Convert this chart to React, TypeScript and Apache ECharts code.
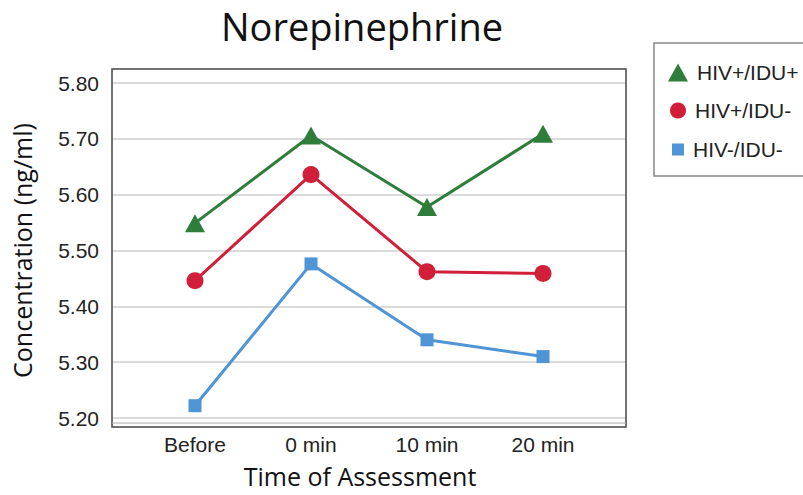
import React, { useEffect, useRef } from "react";
import * as echarts from "echarts";

const categories = ["Before", "0 min", "10 min", "20 min"];
const seriesNames = ["HIV+/IDU+", "HIV+/IDU-", "HIV-/IDU-"];
const hivPosIduPos = [5.549, 5.706, 5.578, 5.709];
const hivPosIduNeg = [5.446, 5.636, 5.462, 5.459];
const hivNegIduNeg = [5.222, 5.476, 5.34, 5.31];
const yTicks = [5.2, 5.3, 5.4, 5.5, 5.6, 5.7, 5.8];

const GREEN = "#2e7d3a";
const RED = "#d11f3a";
const BLUE = "#4f94d4";
const SANS = "Liberation Sans";
const TITLE_FONT = "Open Sans";

export default function App() {
  const ref = useRef<HTMLDivElement>(null);
  useEffect(() => {
    if (!ref.current) return;
    const chart = echarts.init(ref.current, null, { renderer: "svg" });
    const yMin = yTicks[0];
    const yMax = yTicks[yTicks.length - 1];
    const top = 83;
    const height = 335;
    const legendText = { fontSize: 21, fontFamily: SANS, color: "#222", padding: [0, 0, 0, 4] };
    chart.setOption({
      animation: false,
      title: {
        text: "Norepinephrine",
        left: 357,
        textAlign: "center",
        top: 2,
        textStyle: { fontFamily: TITLE_FONT, fontSize: 38, fontWeight: "normal", color: "#111" },
      },
      legend: [
        {
          data: [{ name: seriesNames[0], icon: "triangle" }],
          left: 668, top: 62, itemWidth: 20, itemHeight: 18, padding: 0,
          selectedMode: false, textStyle: legendText,
        },
        {
          data: [{ name: seriesNames[1], icon: "circle" }],
          left: 670, top: 100, itemWidth: 16, itemHeight: 16, padding: 0,
          selectedMode: false, textStyle: legendText,
        },
        {
          data: [{ name: seriesNames[2], icon: "rect" }],
          left: 672, top: 139, itemWidth: 12, itemHeight: 12, padding: 0,
          selectedMode: false, textStyle: legendText,
        },
      ],
      graphic: [
        {
          type: "rect",
          shape: { x: 112, y: 69, width: 514, height: 358 },
          style: { fill: "none", stroke: "#444", lineWidth: 1.5 },
          z: 10,
        },
        {
          type: "line",
          shape: { x1: 112, y1: 423, x2: 626, y2: 423 },
          style: { stroke: "#aaa", lineWidth: 1.2 },
          z: 10,
        },
        {
          type: "rect",
          shape: { x: 654, y: 43, width: 170, height: 133 },
          style: { fill: "none", stroke: "#888", lineWidth: 1.5 },
        },
      ],
      grid: [
        { left: 112, top, width: 514, height },
        { left: 137, top, width: 464, height },
      ],
      xAxis: [
        { gridIndex: 0, type: "value", show: false, min: 0, max: 1 },
        {
          gridIndex: 1,
          type: "category",
          data: categories,
          boundaryGap: true,
          axisLine: { show: false },
          axisTick: { show: false },
          axisLabel: { fontSize: 21, fontFamily: SANS, color: "#222", margin: 16 },
          name: "Time of Assessment",
          nameLocation: "middle",
          nameGap: 45,
          nameTextStyle: { fontSize: 25, fontFamily: TITLE_FONT, color: "#111", padding: [0, 18, 0, 0] },
        },
      ],
      yAxis: [
        {
          gridIndex: 0,
          type: "value",
          min: yMin,
          max: yMax,
          interval: 0.1,
          axisLine: { show: false },
          axisTick: { show: false },
          axisLabel: {
            fontSize: 21, fontFamily: SANS, color: "#222", margin: 13,
            formatter: (v: number) => v.toFixed(2),
          },
          splitLine: { lineStyle: { color: "#cfcfcf", width: 1.5 } },
          name: "Concentration (ng/ml)",
          nameLocation: "middle",
          nameGap: 78,
          nameTextStyle: { fontSize: 25, fontFamily: TITLE_FONT, color: "#111" },
        },
        { gridIndex: 1, type: "value", min: yMin, max: yMax, show: false, splitLine: { show: false } },
      ],
      series: [
        {
          name: seriesNames[0], type: "line", xAxisIndex: 1, yAxisIndex: 1,
          data: hivPosIduPos, symbol: "triangle", symbolSize: [20, 18],
          itemStyle: { color: GREEN }, lineStyle: { color: GREEN, width: 3 }, z: 4,
        },
        {
          name: seriesNames[1], type: "line", xAxisIndex: 1, yAxisIndex: 1,
          data: hivPosIduNeg, symbol: "circle", symbolSize: 17,
          itemStyle: { color: RED }, lineStyle: { color: RED, width: 3 }, z: 3,
        },
        {
          name: seriesNames[2], type: "line", xAxisIndex: 1, yAxisIndex: 1,
          data: hivNegIduNeg, symbol: "rect", symbolSize: 13,
          itemStyle: { color: BLUE }, lineStyle: { color: BLUE, width: 3 }, z: 2,
        },
      ],
    });
    return () => chart.dispose();
  }, []);
  return <div ref={ref} style={{ position: "absolute", left: 0, top: 0, width: 803, height: 495 }} />;
}
